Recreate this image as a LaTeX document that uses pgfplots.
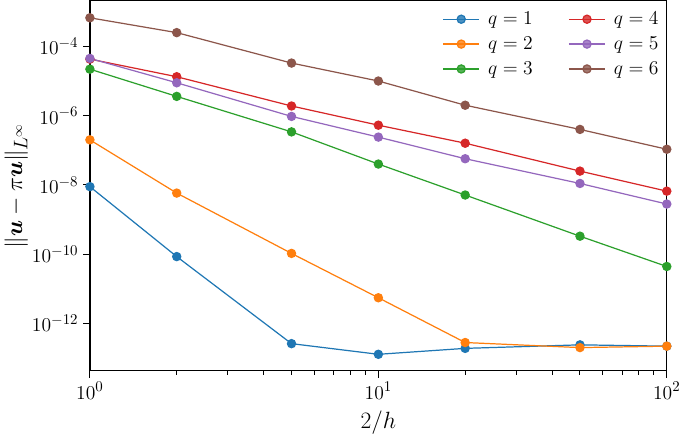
\documentclass[border=0pt]{standalone}
\usepackage{pgfplots}
\usepackage{bm}
\pgfplotsset{compat=1.18}
\definecolor{c1}{HTML}{1F77B4}
\definecolor{c2}{HTML}{FF7F0E}
\definecolor{c3}{HTML}{2CA02C}
\definecolor{c4}{HTML}{D62728}
\definecolor{c5}{HTML}{9467BD}
\definecolor{c6}{HTML}{8C564B}
\begin{document}
\begin{tikzpicture}
\begin{axis}[
  xmode=log, ymode=log,
  scale only axis,
  width=424pt, height=272pt,
  xmin=1, xmax=100,
  ymin=4.3e-14, ymax=2.1e-3,
  ytick={1e-12,1e-10,1e-8,1e-6,1e-4},
  yminorticks=false,
  tick align=outside,
  xtick pos=bottom, ytick pos=left,
  major tick length=5pt, minor tick length=3pt,
  tick style={black, line width=0.7pt},
  axis line style={line width=0.9pt},
  tick label style={font=\fontsize{15}{17}\selectfont},
  xlabel={$2/h$},
  ylabel={$\|\bm{u}-\pi\bm{u}\|_{L^\infty}$},
  label style={font=\fontsize{19}{21}\selectfont},
  ylabel style={yshift=-4pt},
  xlabel style={yshift=-2pt},
  legend columns=3,
  transpose legend,
  legend style={draw=none, fill=white, fill opacity=0.8, text opacity=1, at={(0.998,0.985)}, anchor=north east, font=\fontsize{15.5}{18}\selectfont, row sep=3.5pt, /tikz/every odd column/.append style={column sep=4pt}, /tikz/every even column/.append style={column sep=24pt}},
  legend image code/.code={\draw[#1, line width=0.9pt, mark repeat=2, mark phase=2] plot coordinates {(0cm,0cm) (0.47cm,0cm) (0.94cm,0cm)};},
  every axis plot/.append style={line width=0.9pt, mark=*, mark size=3pt},
]
\addplot[c1, mark options={fill=c1}] coordinates {(1,8.9e-9) (2,8.5e-11) (5,2.6e-13) (10,1.28e-13) (20,1.9e-13) (50,2.4e-13) (100,2.2e-13)};
\addlegendentry{$q=1$}
\addplot[c2, mark options={fill=c2}] coordinates {(1,2.0e-7) (2,5.8e-9) (5,1.05e-10) (10,5.5e-12) (20,2.8e-13) (50,2.0e-13) (100,2.2e-13)};
\addlegendentry{$q=2$}
\addplot[c3, mark options={fill=c3}] coordinates {(1,2.2e-5) (2,3.6e-6) (5,3.4e-7) (10,4.0e-8) (20,5.1e-9) (50,3.3e-10) (100,4.4e-11)};
\addlegendentry{$q=3$}
\addplot[c4, mark options={fill=c4}] coordinates {(1,4.3e-5) (2,1.33e-5) (5,1.9e-6) (10,5.3e-7) (20,1.6e-7) (50,2.5e-8) (100,6.6e-9)};
\addlegendentry{$q=4$}
\addplot[c5, mark options={fill=c5}] coordinates {(1,4.5e-5) (2,8.9e-6) (5,9.5e-7) (10,2.4e-7) (20,5.7e-8) (50,1.1e-8) (100,2.8e-9)};
\addlegendentry{$q=5$}
\addplot[c6, mark options={fill=c6}] coordinates {(1,6.7e-4) (2,2.5e-4) (5,3.3e-5) (10,1.0e-5) (20,2.0e-6) (50,4.0e-7) (100,1.07e-7)};
\addlegendentry{$q=6$}
\end{axis}
\end{tikzpicture}
\end{document}
